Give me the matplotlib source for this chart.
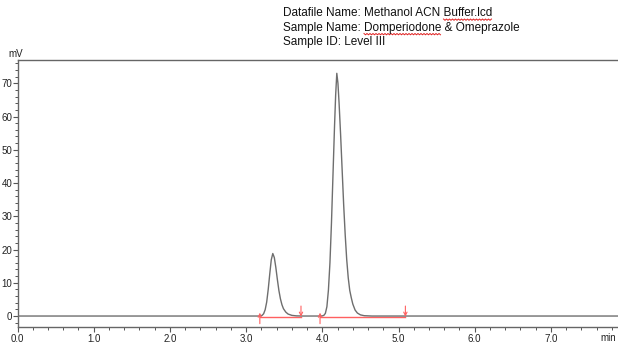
import numpy as np
import matplotlib.pyplot as plt

# chromatogram trace (time in min, signal in mV)
time = [0.00, 3.00, 3.18, 3.21, 3.23, 3.25, 3.27, 3.29, 3.31, 3.33, 3.35, 3.37,
        3.39, 3.41, 3.43, 3.45, 3.47, 3.49, 3.52, 3.55, 3.60, 3.66, 3.75,
        3.95, 4.00, 4.02, 4.04, 4.06, 4.08, 4.10, 4.12, 4.14, 4.16, 4.175,
        4.19, 4.205, 4.22, 4.24, 4.26, 4.28, 4.30, 4.32, 4.34, 4.36, 4.38,
        4.40, 4.43, 4.46, 4.50, 4.55, 4.65, 7.90]
signal = [0.0, 0.0, 0.0, 0.2, 0.7, 1.9, 4.2, 8.0, 12.6, 16.9, 18.8, 17.6,
          14.6, 11.0, 7.7, 5.2, 3.4, 2.2, 1.2, 0.6, 0.2, 0.05, 0.0,
          0.0, 0.05, 0.2, 0.8, 2.8, 7.8, 16.0, 28.0, 42.5, 57.0, 66.5,
          73.0, 70.0, 64.0, 54.5, 44.0, 33.5, 24.5, 17.0, 11.5, 7.7, 5.5,
          3.6, 1.8, 0.9, 0.35, 0.1, 0.0, 0.0]

# integration baselines (start, end) in min
peak_start = [3.18, 3.97]
peak_end = [3.72, 5.09]

header = ["Datafile Name: Methanol ACN Buffer.lcd",
          "Sample Name: Domperiodone & Omeprazole",
          "Sample ID: Level III"]
# words with the red spell-check underline: (line, prefix before word, word)
underlined = [(0, "Datafile Name: Methanol ACN ", "Buffer.lcd"),
              (1, "Sample Name: ", "Domperiodone")]

plt.rcParams['font.family'] = ['Liberation Sans', 'DejaVu Sans']

W, H = 618, 343
fig = plt.figure(figsize=(W/100, H/100), dpi=100)
ax = fig.add_axes([17.5/W, 16/H, 1 - 17.5/W, 267/H])

ax.plot(time, signal, color='#6e6e6e', lw=1.0, zorder=3)

red = '#ff6060'
for s, e in zip(peak_start, peak_end):
    ax.plot([s, e], [-0.2, -0.2], color=red, lw=1.0, zorder=2)
    ax.annotate('', xy=(s, 1.0), xytext=(s, -2.3),
                arrowprops=dict(arrowstyle='->', color=red, lw=0.8,
                                shrinkA=0, shrinkB=0, mutation_scale=6))
    ax.annotate('', xy=(e, -0.2), xytext=(e, 3.0),
                arrowprops=dict(arrowstyle='->', color=red, lw=0.8,
                                shrinkA=0, shrinkB=0, mutation_scale=6))

ax.set_xlim(0, 7.88)
ax.set_ylim(-3.3, 77)

ax.set_xticks(np.arange(0, 8, 1.0))
ax.set_xticklabels(['%.1f' % v for v in np.arange(0, 8, 1.0)])
ax.set_xticks(np.arange(0, 7.9, 0.2), minor=True)
ax.set_yticks(np.arange(0, 80, 10))
ax.set_yticks(np.arange(-2, 77, 2), minor=True)

ax.tick_params(which='both', direction='out', colors='#555555', labelcolor='#222222',
               labelsize=7)
ax.tick_params(axis='y', pad=0.3)
ax.tick_params(axis='x', pad=1.2)
ax.tick_params(which='major', length=3.5, width=0.8)
ax.tick_params(which='minor', length=2.2, width=0.7)

for side in ['left', 'bottom', 'top']:
    ax.spines[side].set_color('#666666')
    ax.spines[side].set_linewidth(1.0)
ax.spines['right'].set_visible(False)

fig.text(8/W, 1 - 57/H, 'mV', fontsize=7, color='#222222', va='baseline')
fig.text(616/W, 1 - 341/H, 'min', fontsize=7, color='#222222', va='baseline',
         ha='right')

x0 = 283/W
line_y = [1 - (16 + 14.5*i)/H for i in range(len(header))]
for i, line in enumerate(header):
    fig.text(x0, line_y[i], line, fontsize=8.5, color='#111111', va='baseline')

# red wavy underline under the flagged words
fig.canvas.draw()
r = fig.canvas.get_renderer()
for i, pre, word in underlined:
    t1 = fig.text(x0, line_y[i], pre, fontsize=8.5, alpha=0)
    t2 = fig.text(x0, line_y[i], pre + word, fontsize=8.5, alpha=0)
    xa = t1.get_window_extent(r).x1
    xb = t2.get_window_extent(r).x1
    xs = np.arange(xa, xb, 1.5)
    ys = line_y[i]*H - 3 + np.where(np.arange(len(xs)) % 2 == 0, 0, -1.3)
    fig.add_artist(plt.Line2D(xs/W, ys/H, color='#e02020', lw=0.7))

fig.savefig('out.png', dpi=100)
